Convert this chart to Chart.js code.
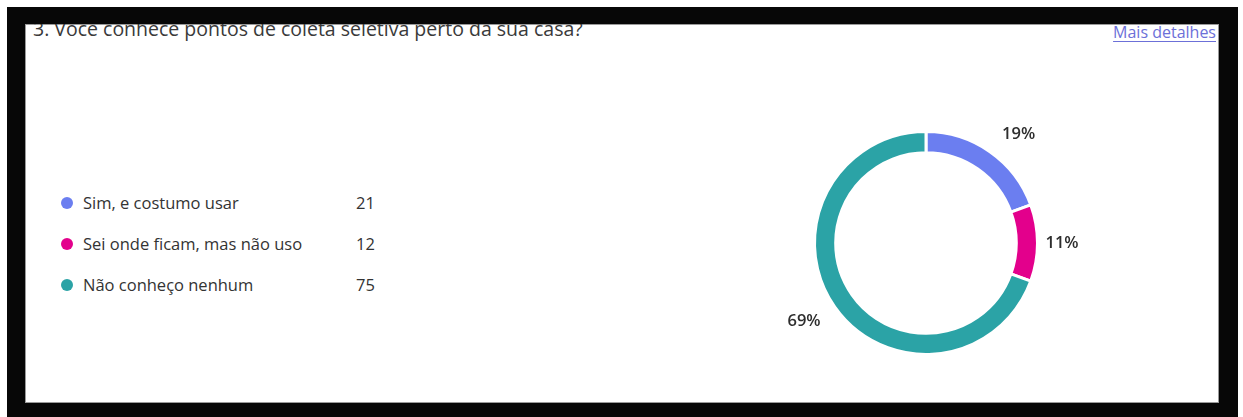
<!DOCTYPE html>
<html>
<head>
<meta charset="utf-8">
<script src="https://cdn.jsdelivr.net/npm/chart.js@4"></script>
<style>
  html, body { margin: 0; padding: 0; background: #fff; }
  body { width: 1243px; height: 417px; position: relative; overflow: hidden; font-family: "Open Sans", "Noto Sans", sans-serif; }
  #frame { position: absolute; left: 7px; top: 7px; width: 1231px; height: 420px; background: #070707; }
  #panel { position: absolute; left: 25px; top: 24px; width: 1194px; height: 379px; background: #fff; overflow: hidden; box-shadow: inset 0 0 0 1px #9a9a9a; }
  #title { position: absolute; left: 8px; top: -9px; font-size: 19.5px; color: #3a3a3a; white-space: nowrap; }
  #more { position: absolute; right: 3px; top: -3px; font-size: 16px; color: #6c70d8; text-decoration: underline; text-underline-offset: 3px; }
  #legend { position: absolute; left: 34px; top: 167px; }
  .row { position: relative; height: 41px; font-size: 16.5px; color: #333; }
  .dot { position: absolute; left: 2px; top: 6px; width: 12px; height: 12px; border-radius: 50%; }
  .lab { position: absolute; left: 24px; top: 0; white-space: nowrap; }
  .val { position: absolute; left: 297px; top: 0; }
  #wrap { position: absolute; left: 701px; top: 59px; width: 400px; height: 320px; }
</style>
</head>
<body>
<div id="frame"></div>
<div id="panel">
  <div id="title">3. Você conhece pontos de coleta seletiva perto da sua casa?</div>
  <div id="more">Mais detalhes</div>
  <div id="legend"></div>
  <div id="wrap"><canvas id="c" width="400" height="320"></canvas></div>
</div>
<script>
const categories = ['Sim, e costumo usar', 'Sei onde ficam, mas não uso', 'Não conheço nenhum'];
const counts = [21, 12, 75];
const colors = ['#6b7ef0', '#e3008c', '#2ba3a6'];

// legend built from the same arrays
const legend = document.getElementById('legend');
categories.forEach((name, i) => {
  const row = document.createElement('div');
  row.className = 'row';
  row.innerHTML = `<span class="dot" style="background:${colors[i]}"></span><span class="lab">${name}</span><span class="val">${counts[i]}</span>`;
  legend.appendChild(row);
});

const total = counts.reduce((a, b) => a + b, 0);

// percentage labels outside the ring
const pctLabels = {
  id: 'pctLabels',
  afterDatasetsDraw(chart) {
    const ctx = chart.ctx;
    const arcs = chart.getDatasetMeta(0).data;
    ctx.save();
    ctx.font = '600 16.5px "Open Sans", sans-serif';
    ctx.fillStyle = '#2e2e2e';
    ctx.textBaseline = 'middle';
    arcs.forEach((arc, i) => {
      const mid = (arc.startAngle + arc.endAngle) / 2;
      const text = Math.round(counts[i] / total * 100) + '%';
      const c = Math.cos(mid), s = Math.sin(mid);
      const r = arc.outerRadius + 8;
      const x = arc.x + c * (r + Math.abs(s) * 16);
      let y = arc.y + s * r;
      ctx.textAlign = c > 0.3 ? 'left' : c < -0.3 ? 'right' : 'center';
      if (s > 0.3) y += 10;
      else if (s < -0.3) y -= 11;
      ctx.fillText(text, x, y);
    });
    ctx.restore();
  }
};

new Chart(document.getElementById('c'), {
  type: 'doughnut',
  data: {
    labels: categories,
    datasets: [{
      data: counts,
      backgroundColor: colors,
      borderColor: '#fff',
      borderWidth: 3
    }]
  },
  options: {
    responsive: false,
    animation: false,
    cutout: '81%',
    layout: { padding: { left: 87, right: 87, top: 47, bottom: 47 } },
    plugins: { legend: { display: false }, tooltip: { enabled: false } }
  },
  plugins: [pctLabels]
});
</script>
</body>
</html>
